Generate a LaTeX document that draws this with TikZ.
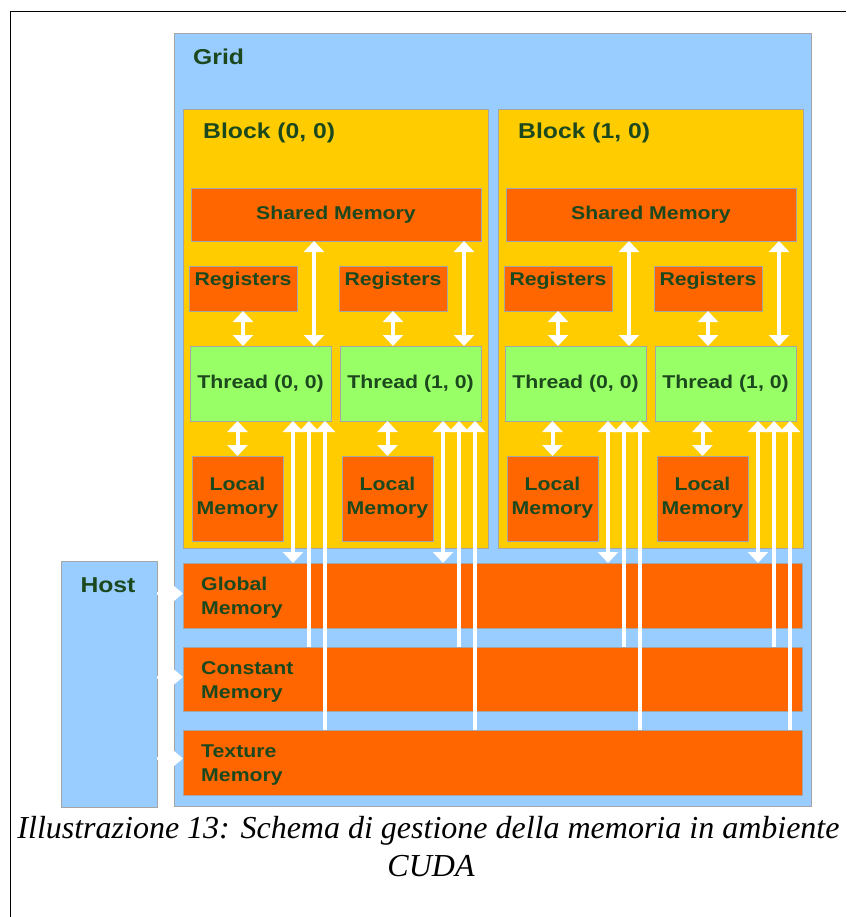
\documentclass[tikz,border=0pt]{standalone}
\usepackage{fontspec}
\usetikzlibrary{arrows.meta,fit,calc}
\newfontfamily\lblfont{Liberation Sans}[FakeStretch=1.15]
\newfontfamily\capfont{Liberation Serif}
\definecolor{gridblue}{RGB}{153,204,255}
\definecolor{blockyellow}{RGB}{255,204,0}
\definecolor{memorange}{RGB}{255,102,0}
\definecolor{threadgreen}{RGB}{153,255,102}
\definecolor{edgegray}{RGB}{165,165,165}
\definecolor{inkgreen}{RGB}{28,72,30}
\begin{document}
\begin{tikzpicture}[x=1pt,y=-1pt,
  area/.style={draw=edgegray, line width=1pt, inner sep=0pt, outer sep=0pt},
  gridbox/.style={area, fill=gridblue},
  blockbox/.style={area, fill=blockyellow},
  membox/.style={area, fill=memorange},
  threadbox/.style={area, fill=threadgreen},
  txt/.style={text=inkgreen, font=\lblfont\bfseries\fontsize{18.5}{24}\selectfont, align=center, inner sep=0pt},
  title/.style={text=inkgreen, font=\lblfont\bfseries\fontsize{21.5}{26}\selectfont, anchor=west, inner sep=0pt},
  memtext/.style={txt, anchor=west, align=left},
  duplex/.style={draw=white, line width=4pt, {Triangle[width=20pt,length=11pt]}-{Triangle[width=20pt,length=11pt]}},
  uplink/.style={draw=white, line width=4pt, {Triangle[width=20pt,length=11pt]}-},
  hostlink/.style={draw=white, line width=3pt, -{Triangle[width=16pt,length=10pt]}},
  captext/.style={font=\capfont\itshape\fontsize{32}{38}\selectfont, anchor=base, inner sep=0pt}
]
\useasboundingbox (0,0) rectangle (846,917);
\fill[white] (0,0) rectangle (846,917);
% page frame
\draw[line width=1.2pt] (10.5,917) -- (10.5,11.5) -- (846,11.5);

% host and grid
\node[gridbox, fit={(61,561)(157,807)}] (host) {};
\node[gridbox, fit={(174,34)(811,806)}] (grid) {};

% blocks with their per-thread memories
\foreach \b in {0,1} {
  \pgfmathsetmacro\B{315*\b}
  \node[blockbox, fit={(183+\B,110)(488+\B,548)}] (blk\b) {};
  \node[membox, fit={(191+\B,189)(481+\B,241)}] (sh\b) {};
  \node[txt] (shtext\b) at (sh\b.center) {Shared Memory};
  \foreach \t in {0,1} {
    \pgfmathsetmacro\X{315*\b+150*\t}
    \node[membox, fit={(189+\X,266)(297+\X,311)}] (reg\b\t) {};
    \node[txt] (regtext\b\t) at ([yshift=8pt]reg\b\t.center) {Registers};
    \node[threadbox, fit={(190+\X,346)(331+\X,421)}] (thr\b\t) {};
    \node[txt] (thrtext\b\t) at (thr\b\t.center) {Thread (\t, 0)};
    \node[membox, fit={(192+\X,456)(283+\X,541)}] (loc\b\t) {};
    \node[txt] (loctext\b\t) at ([yshift=1pt]loc\b\t.center) {Local\\Memory};
  }
}

% device-wide memories
\node[membox, fit={(183,563)(802,628)}] (glob) {};
\node[membox, fit={(183,647)(802,711)}] (const) {};
\node[membox, fit={(183,730)(802,795)}] (tex) {};

% data paths
\foreach \b in {0,1} {
  \foreach \t in {0,1} {
    \draw[duplex] (reg\b\t.south) -- (reg\b\t.south |- thr\b\t.north);
    \coordinate (s\b\t) at ([xshift=-17pt]thr\b\t.north east);
    \draw[duplex] (s\b\t |- sh\b.south) -- (s\b\t);
    \draw[duplex] (loc\b\t.north) -- (loc\b\t.north |- thr\b\t.south);
    \coordinate (g\b\t) at ([xshift=-38pt]thr\b\t.south east);
    \coordinate (c\b\t) at ([xshift=-22pt]thr\b\t.south east);
    \coordinate (x\b\t) at ([xshift=-6pt]thr\b\t.south east);
    \draw[duplex] (g\b\t) -- (g\b\t |- glob.north);
    \draw[uplink] (c\b\t) -- (c\b\t |- const.north);
    \draw[uplink] (x\b\t) -- (x\b\t |- tex.north);
  }
}
\draw[hostlink] ([yshift=2pt]host.east |- glob.west) -- ([yshift=2pt]glob.west);
\draw[hostlink] ([yshift=2pt]host.east |- const.west) -- ([yshift=2pt]const.west);
\draw[hostlink] ([yshift=4pt]host.east |- tex.west) -- ([yshift=4pt]tex.west);

% labels
\node[title] (gridlabel) at (193,57) {Grid};
\node[title] (blk0label) at (203,133) {Block (0, 0)};
\node[title] (blk1label) at (518,133) {Block (1, 0)};
\node[title, anchor=center] (hostlabel) at (108,585) {Host};
\node[memtext] (globlabel) at (201,598) {Global\\Memory};
\node[memtext] (constlabel) at (201,682) {Constant\\Memory};
\node[memtext] (texlabel) at (201,765) {Texture\\Memory};

% caption
\node[captext] (cap1) at (428.5,838) {Illustrazione 13: Schema di gestione della memoria in ambiente};
\node[captext] (cap2) at (431,876) {CUDA};
\end{tikzpicture}
\end{document}
